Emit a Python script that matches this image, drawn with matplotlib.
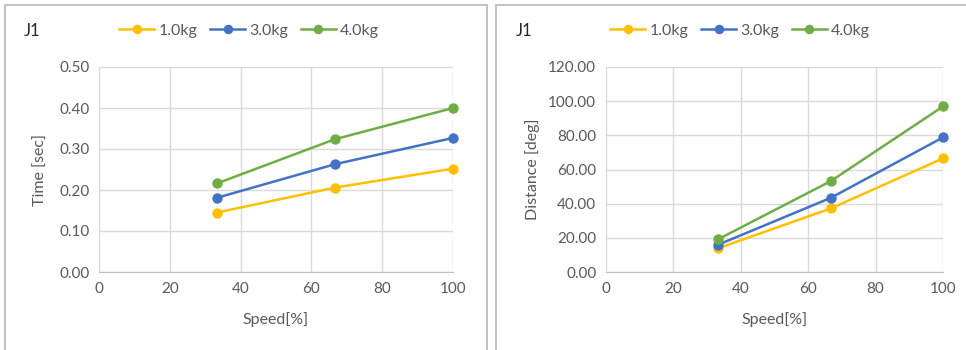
import matplotlib
matplotlib.use("Agg")
from matplotlib import pyplot as plt
from matplotlib.patches import Rectangle

# data
speed = [33.3, 66.7, 100]
labels = ["1.0kg", "3.0kg", "4.0kg"]
colors = ["#FFC000", "#4472C4", "#70AD47"]
time_1kg = [0.145, 0.206, 0.252]
time_3kg = [0.181, 0.263, 0.327]
time_4kg = [0.216, 0.324, 0.400]
dist_1kg = [13.9, 37.2, 66.5]
dist_3kg = [16.0, 43.4, 78.8]
dist_4kg = [19.2, 53.2, 96.9]

W, H = 966, 350
plt.rcParams['font.family'] = ['Lato', 'DejaVu Sans']
gray = "#595959"
grid = "#d9d9d9"

fig = plt.figure(figsize=(W / 100, H / 100), dpi=100)
fig.patch.set_facecolor("white")

# panel borders
fig.patches.append(Rectangle((5 / W, -0.05), 482 / W, 1.05 - 5 / H, transform=fig.transFigure,
                             fill=False, edgecolor="#bdbdbd", lw=1.3))
fig.patches.append(Rectangle((496 / W, -0.05), 0.6, 1.05 - 5 / H, transform=fig.transFigure,
                             fill=False, edgecolor="#bdbdbd", lw=1.3))


def make_panel(x0, x1, series, ymax, ystep, fmt, ylabel, ylabel_x, title_x, legend_x):
    ax = fig.add_axes([x0 / W, (H - 272) / H, (x1 - x0) / W, (272 - 67) / H])
    lines = []
    for vals, lab, c in zip(series, labels, colors):
        ln, = ax.plot(speed, vals, color=c, lw=1.8, marker="o", ms=6.5, label=lab, clip_on=False, zorder=3)
        lines.append(ln)
    ax.set_xlim(0, 100)
    ax.set_ylim(0, ymax)
    ax.set_xticks(range(0, 101, 20))
    yt = [i * ystep for i in range(int(round(ymax / ystep)) + 1)]
    ax.set_yticks(yt)
    ax.set_yticklabels([fmt.format(v) for v in yt])
    ax.grid(True, color=grid, lw=1.0)
    ax.set_axisbelow(True)
    for s in ["left", "top", "right"]:
        ax.spines[s].set_visible(False)
    ax.spines["bottom"].set_color("#bfbfbf")
    ax.tick_params(length=0, colors=gray, labelsize=11, pad=7)
    ax.set_xlabel("Speed[%]", color=gray, fontsize=11.5)
    ax.xaxis.set_label_coords(0.5, (272 - 312) / 205)
    ax.set_ylabel(ylabel, color=gray, fontsize=11.5)
    ax.yaxis.set_label_coords((ylabel_x - x0) / (x1 - x0), 0.5)
    fig.text(title_x / W, 1 - 31 / H, "J1", fontsize=12, color="#262626", va="center", ha="left")
    fig.legend(handles=lines, loc="center", bbox_to_anchor=(legend_x / W, 1 - 31 / H), ncol=3,
               frameon=False, fontsize=11.5, handlelength=2.2, handletextpad=0.25, columnspacing=0.8,
               labelcolor=gray, markerscale=0.9)
    return ax


make_panel(99, 453, [time_1kg, time_3kg, time_4kg], 0.5, 0.1, "{:.2f}", "Time [sec]", 48, 24, 249)
make_panel(606, 943, [dist_1kg, dist_3kg, dist_4kg], 120, 20, "{:.2f}", "Distance [deg]", 540, 516, 740)

fig.savefig("out.png", dpi=100)
